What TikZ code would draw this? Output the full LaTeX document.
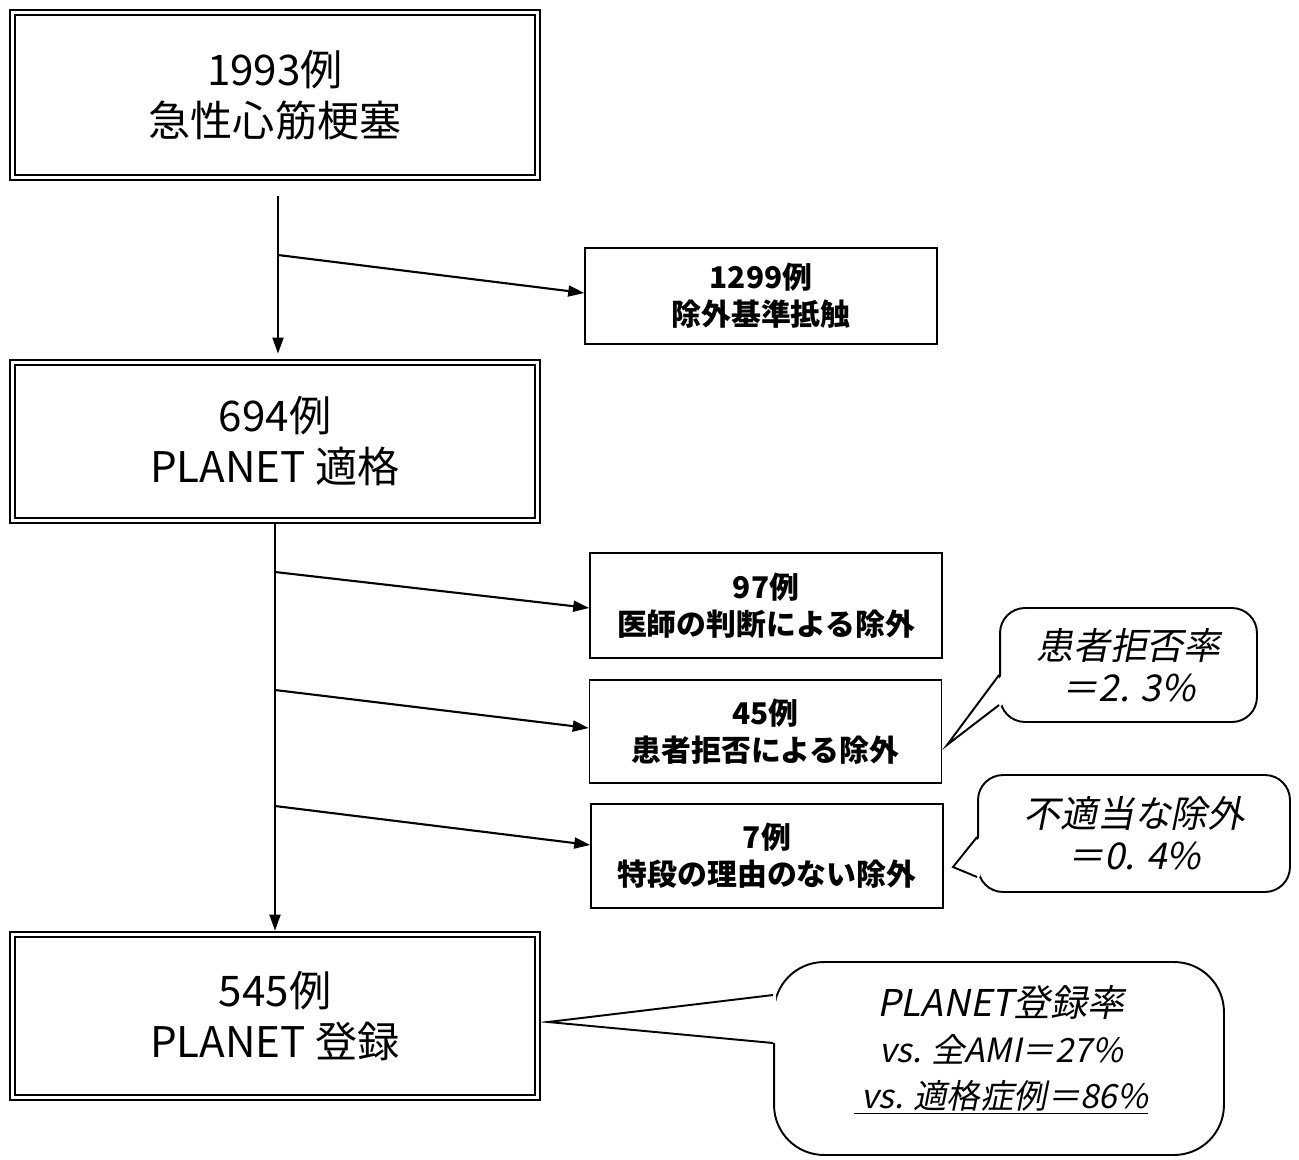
\documentclass[tikz,border=0pt]{standalone}
\usepackage{fontspec}
\setmainfont{Noto Sans CJK JP}
\newfontfamily\jpit{Noto Sans CJK JP}[FakeSlant=0.2]
\usetikzlibrary{arrows.meta}
\begin{document}
\begin{tikzpicture}[x=0.02cm,y=-0.02cm,
  bigbox/.style={draw, line width=1.6pt, minimum width=10.6cm, align=center,
    font=\fontsize{24}{29}\selectfont,
    path picture={\draw[line width=0.9pt]
      ([shift={(0.1cm,-0.1cm)}]path picture bounding box.north west) rectangle
      ([shift={(-0.1cm,0.1cm)}]path picture bounding box.south east);}},
  exbox/.style={draw, line width=0.9pt, minimum width=7.04cm, minimum height=2.06cm,
    align=center, font=\bfseries\fontsize{17}{21}\selectfont},
  callout/.style={draw, line width=1.1pt, rounded corners=0.5cm, fill=white,
    align=center, font=\jpit\fontsize{21}{24}\selectfont},
  arr/.style={line width=1.2pt, -{Triangle[length=0.32cm,width=0.22cm]}},
  ptr/.style={line width=1.1pt}]
\useasboundingbox (0,0) rectangle (1299,1160);

% main boxes
\node[bigbox, minimum height=3.4cm]  (b1) at (275,95)    {1993例\\急性心筋梗塞};
\node[bigbox, minimum height=3.26cm] (b2) at (275,441.5) {694例\\PLANET 適格};
\node[bigbox, minimum height=3.36cm] (b3) at (275,1016)  {545例\\PLANET 登録};

% exclusion boxes
\node[exbox, minimum height=1.92cm] (e1) at (761,296)   {1299例\\除外基準抵触};
\node[exbox, minimum height=2.1cm]  (e2) at (766,605.5) {97例\\医師の判断による除外};
\node[exbox]                        (e3) at (765.5,731.5) {45例\\患者拒否による除外};
\node[exbox, minimum height=2.08cm] (e4) at (767,856)   {7例\\特段の理由のない除外};

% main flow
\draw[arr] ([xshift=0.06cm,yshift=-0.3cm]b1.south) -- ([xshift=0.06cm,yshift=0.1cm]b2.north);
\draw[arr] (b2.south) -- (b3.north);

% branches
\coordinate (j1) at (278,255);
\coordinate (j2) at (275,572);
\coordinate (j3) at (275,690);
\coordinate (j4) at (275,806);
\draw[arr] (j1) -- ([yshift=0.06cm]e1.west);
\draw[arr] (j2) -- ([yshift=-0.05cm]e2.west);
\draw[arr] (j3) -- ([yshift=0.07cm]e3.west);
\draw[arr] (j4) -- ([yshift=0.22cm]e4.west);

% callouts
\node[callout, minimum width=5.14cm, minimum height=2.28cm] (c1) at (1128.5,665)
  {患者拒否率\\＝2. 3\%};
\node[callout, minimum width=6.24cm, minimum height=2.34cm] (c2) at (1134,833.5)
  {不適当な除外\\＝0. 4\%};
\node[callout, rounded corners=1cm, minimum width=9cm, minimum height=3.86cm] (c3) at (999,1058.5) {};
\node[font=\jpit\fontsize{19}{26}\selectfont, align=center] (t3) at (1001,1050)
  {{\fontsize{21}{26}\selectfont PLANET登録率}\\vs. 全AMI＝27\%\\\underline{\ vs. 適格症例＝86\%}};

% pointers
\coordinate (p1) at (947,745);
\coordinate (p2) at (953,867);
\coordinate (p3) at (548,1022);
\fill[white] ([shift={(0.06cm,-0.2cm)}]c1.west) -- (p1) -- ([shift={(0.06cm,-0.8cm)}]c1.west) -- cycle;
\draw[ptr] ([yshift=-0.2cm]c1.west) -- (p1) -- ([yshift=-0.8cm]c1.west);
\fill[white] ([shift={(0.06cm,-0.07cm)}]c2.west) -- (p2) -- ([shift={(0.06cm,-0.87cm)}]c2.west) -- cycle;
\draw[ptr] ([yshift=-0.07cm]c2.west) -- (p2) -- ([yshift=-0.87cm]c2.west);
\fill[white] ([shift={(0.06cm,1.27cm)}]c3.west) -- (p3) -- ([shift={(0.06cm,0.31cm)}]c3.west) -- cycle;
\draw[ptr] ([yshift=1.27cm]c3.west) -- (p3) -- ([yshift=0.31cm]c3.west);
\end{tikzpicture}
\end{document}
